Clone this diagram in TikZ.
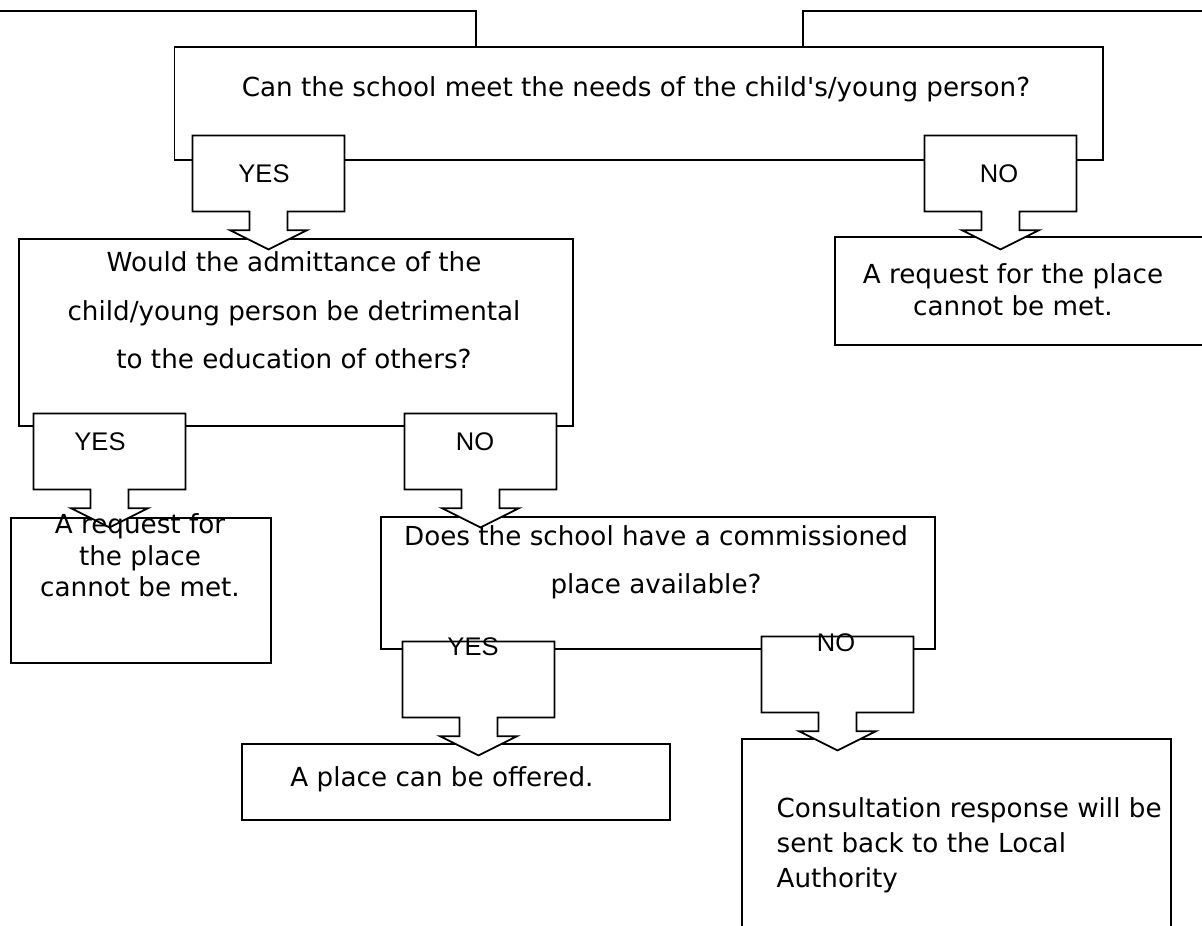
\documentclass[tikz,border=0pt]{standalone}
\usepackage{fontspec}
\setmainfont{DejaVu Sans}
\newfontfamily\ynfamily{Liberation Sans}
\usetikzlibrary{shapes.arrows}

\tikzset{
  qbox/.style = {draw, fill=white, line width=1.2pt, inner sep=0pt},
  choice/.style = {arrow box, draw, fill=white, line width=1.8pt, inner sep=0pt,
    minimum width=152pt, minimum height=76pt,
    arrow box arrows={south:37pt from border},
    arrow box shaft width=38pt, arrow box head extend=19.5pt,
    arrow box tip angle=127},
  qtext/.style = {font=\fontsize{26.2pt}{#1}\selectfont, align=center, inner sep=0pt},
  qtext/.default = 32pt,
  yn/.style = {font=\ynfamily\fontsize{25.5pt}{30pt}\selectfont, inner sep=0pt, anchor=base},
}

\begin{document}
\begin{tikzpicture}[x=1pt, y=-1pt, line width=1.2pt]
		\path[use as bounding box, clip] (0,0) rectangle (1202,926);
		
		% frame cut off at the top
		\draw (0,11) -| (476,47);
		\draw (803,47) |- (1202,11);
		
		% boxes
		\node [qbox, minimum width=928.5pt, minimum height=113pt] (needs) at (638.75,103.5) {};
		\node [qbox, minimum width=554pt, minimum height=187pt] (detri) at (296,332.5) {};
		\node [qbox, minimum width=405pt, minimum height=108pt] (refuseA) at (1037.5,291) {};
		\node [qbox, minimum width=260pt, minimum height=145pt] (refuseB) at (141,590.5) {};
		\node [qbox, minimum width=554pt, minimum height=132pt] (commis) at (658,583) {};
		\node [qbox, minimum width=428pt, minimum height=76pt] (offer) at (456,782) {};
		\node [qbox, minimum width=429pt, minimum height=221pt] (consult) at (956.5,849.5) {};
		
		% answer callouts
		\node [choice] (yesA) at (268.5,173.5) {};
		\node [choice] (noA) at (1000.5,173.5) {};
		\node [choice] (yesB) at (109.5,451.5) {};
		\node [choice] (noB) at (480.5,451.5) {};
		\node [choice] (yesC) at (478.5,679.5) {};
		\node [choice] (noC) at (837.5,674.5) {};
		
		\node [yn] (yesAl) at (264,182) {YES};
		\node [yn] (noAl) at (999,182) {NO};
		\node [yn] (yesBl) at (100,450) {YES};
		\node [yn] (noBl) at (475,450) {NO};
		\node [yn] (yesCl) at (473,655) {YES};
		\node [yn] (noCl) at (836,651) {NO};
		
		% texts
		\node [qtext, anchor=base] (needst) at (636,96) {Can the school meet the needs of the child\textquotesingle s/young person?};
		\node [qtext=48.5pt, anchor=north] (detrit) at (294,251) {Would the admittance of the\\child/young person be detrimental\\to the education of others?};
		\node [qtext, anchor=north] (refuseAt) at (1013,263) {A request for the place\\cannot be met.};
		\node [qtext=31.5pt, anchor=north] (refuseBt) at (140,513) {A request for\\the place\\cannot be met.};
		\node [qtext=48pt, anchor=north] (commist) at (656,525) {Does the school have a commissioned\\place available?};
		\node [qtext, anchor=base] (offert) at (442,786) {A place can be offered.};
		\node [qtext=35pt, align=left, anchor=north west] (consultt) at (776,797) {Consultation response will be\\sent back to the Local\\Authority};
	\end{tikzpicture}
\end{document}
